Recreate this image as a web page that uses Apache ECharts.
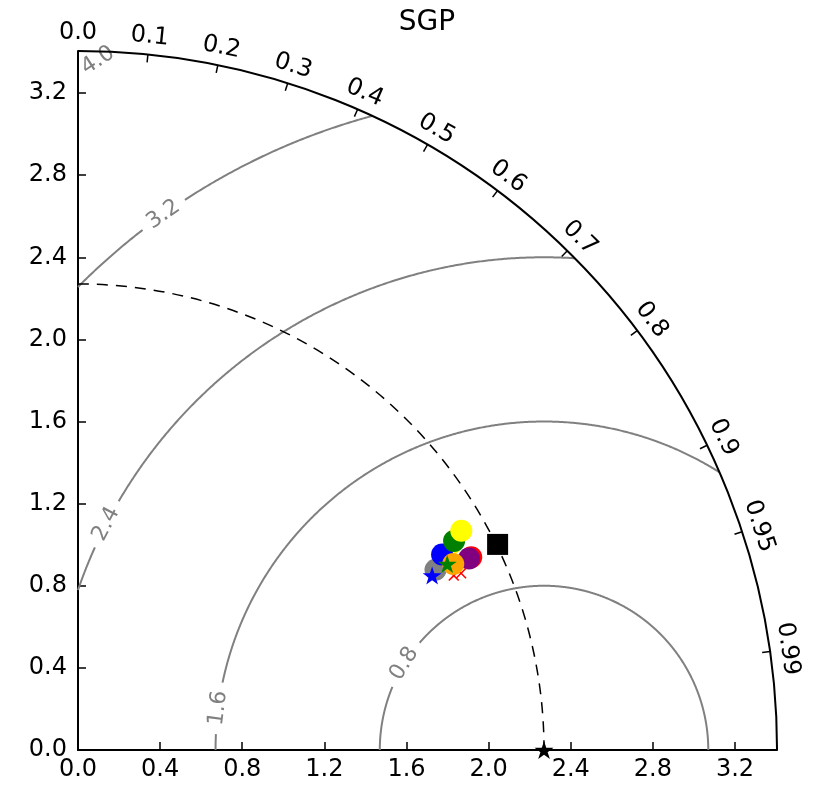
<!DOCTYPE html>
<html>
<head>
<meta charset="utf-8">
<title>SGP</title>
<script src="https://cdn.jsdelivr.net/npm/echarts@6.0.0/dist/echarts.min.js"></script>
<style>
html, body { margin: 0; padding: 0; background: #fff; }
#chart { width: 813px; height: 788px; }
</style>
</head>
<body>
<div id="chart"></div>
<script>
// Taylor diagram: radius = standard deviation, angle = arccos(correlation)
const titleText = 'SGP';
const refStd = 2.27;   // standard deviation of the reference (observations)
const stdTicks = [0.0, 0.4, 0.8, 1.2, 1.6, 2.0, 2.4, 2.8, 3.2];
const corrTicks = [0.0, 0.1, 0.2, 0.3, 0.4, 0.5, 0.6, 0.7, 0.8, 0.9, 0.95, 0.99];
const rmsLevels = [0.8, 1.6, 2.4, 3.2, 4.0];

// model points, listed in drawing order (later ones on top)
const pointStd  = [1.950, 2.050, 2.013, 2.133, 2.121, 2.096, 2.151, 2.018, 2.055, 2.040, 2.014, 1.923];
const pointCorr = [0.893, 0.884, 0.881, 0.898, 0.898, 0.874, 0.868, 0.907, 0.908, 0.896, 0.893, 0.897];
// ensemble / benchmark point
const squareStd  = [2.276];
const squareCorr = [0.898];

// marker styling, one entry per model point
const pointColor = ['#808080', '#ffff00', '#0000ff', '#ff0000', '#800080', '#008000',
                    '#ffff00', '#ff0000', '#ff0000', '#ffa500', '#008000', '#0000ff'];
const pointShape = ['circle', 'star', 'circle', 'circle', 'circle', 'circle',
                    'circle', 'cross', 'cross', 'circle', 'star', 'star'];

// where each RMS contour label sits along its circle (degrees around the reference point)
const contourLabelAngle = [148.3, 172.7, 152.7, 125.4, 122.9];

const FONT = '"DejaVu Sans", "Liberation Sans", sans-serif';
const GRAY = '#808080';
const SCALE = 205.3;            // pixels per unit of standard deviation
const smax = 1.5 * refStd;      // outer radius of the diagram
const CONTOUR_GAP = 26;         // half width (px) of the break left for a contour label

const STAR = 'path://M0,-100 L22.45,-30.9 L95.1,-30.9 L36.33,11.8 L58.78,80.9 L0,38.2 L-58.78,80.9 L-36.33,11.8 L-95.1,-30.9 L-22.45,-30.9 Z';
const CROSS = 'path://M-10,-8 L-8,-10 L0,-2 L8,-10 L10,-8 L2,0 L10,8 L8,10 L0,2 L-8,10 L-10,8 L-2,0 Z';
const symbolFor = { circle: 'circle', star: STAR, cross: CROSS };
const sizeFor = { circle: 22, star: 19, cross: 11 };

function toXY(std, corr) {
  return [std * corr, std * Math.sqrt(1 - corr * corr)];
}

// angular extent (deg, around the reference point) of an RMS circle inside the quarter disc
function contourRange(r) {
  let lo = 0, hi = 180;
  const c = (smax * smax - refStd * refStd - r * r) / (2 * refStd * r);
  if (c < 1) lo = Math.acos(Math.max(-1, c)) * 180 / Math.PI;
  if (r > refStd) hi = Math.acos(-refStd / r) * 180 / Math.PI;
  return [lo, hi];
}

function contourItem(params, api) {
  const i = params.dataIndex;
  const r = rmsLevels[i];
  const u = api.size([1, 0])[0];
  const [lo, hi] = contourRange(r);
  const mid = contourLabelAngle[i];
  const half = CONTOUR_GAP / (r * u) * 180 / Math.PI;
  const children = [];
  [[lo, mid - half], [mid + half, hi]].forEach(([a, b]) => {
    a = Math.max(a, lo); b = Math.min(b, hi);
    if (b - a <= 0.05) return;
    const n = Math.max(2, Math.ceil((b - a) / 0.2));
    const pts = [];
    for (let k = 0; k <= n; k++) {
      const p = (a + (b - a) * k / n) * Math.PI / 180;
      pts.push(api.coord([refStd + r * Math.cos(p), r * Math.sin(p)]));
    }
    children.push({ type: 'polyline', shape: { points: pts },
      style: { stroke: GRAY, lineWidth: 2, fill: null } });
  });
  const pm = mid * Math.PI / 180;
  const c = api.coord([refStd + r * Math.cos(pm), r * Math.sin(pm)]);
  children.push({ type: 'text', x: c[0], y: c[1], rotation: pm - Math.PI / 2,
    style: { text: r.toFixed(1), fill: GRAY, font: '22px ' + FONT, align: 'center', verticalAlign: 'middle' } });
  return { type: 'group', children };
}

function corrItem(params, api) {
  const c = corrTicks[params.dataIndex];
  const t = Math.acos(c);
  const o = api.coord([0, 0]);
  const R = api.size([smax, 0])[0];
  const dx = Math.cos(t), dy = -Math.sin(t);
  return { type: 'group', children: [
    { type: 'line', shape: { x1: o[0] + R * dx, y1: o[1] + R * dy, x2: o[0] + (R - 8) * dx, y2: o[1] + (R - 8) * dy },
      style: { stroke: '#000', lineWidth: 1.5 } },
    { type: 'text', x: o[0] + (R + 18) * dx, y: o[1] + (R + 18) * dy, rotation: t - Math.PI / 2,
      style: { text: c === 0 ? '0.0' : String(c), fill: '#000', font: '24px ' + FONT, align: 'center', verticalAlign: 'middle' } }
  ] };
}

function arcsItem(params, api) {
  const o = api.coord([0, 0]);
  const R = api.size([smax, 0])[0];
  const Rr = api.size([refStd, 0])[0];
  return { type: 'group', children: [
    { type: 'arc', shape: { cx: o[0], cy: o[1], r: Rr, startAngle: -Math.PI / 2, endAngle: 0, clockwise: true },
      style: { stroke: '#000', lineWidth: 1.5, lineDash: [11, 8], fill: null } },
    { type: 'arc', shape: { cx: o[0], cy: o[1], r: R, startAngle: -Math.PI / 2, endAngle: 0, clockwise: true },
      style: { stroke: '#000', lineWidth: 2, fill: null } }
  ] };
}

const modelData = pointStd.map((s, i) => ({
  value: toXY(s, pointCorr[i]),
  symbol: symbolFor[pointShape[i]],
  symbolSize: sizeFor[pointShape[i]],
  symbolKeepAspect: true,
  itemStyle: { color: pointColor[i], opacity: 1 }
}));

const chart = echarts.init(document.getElementById('chart'), null, { renderer: 'canvas' });
const side = smax * SCALE;

const axisCommon = {
  type: 'value', min: 0, max: smax, interval: 0.4,
  axisLine: { show: true, onZero: false, lineStyle: { color: '#000', width: 2 } },
  axisTick: { show: true, inside: true, length: 8, customValues: stdTicks, lineStyle: { color: '#000', width: 1.5 } },
  splitLine: { show: false }
};

chart.setOption({
  animation: false,
  backgroundColor: '#fff',
  graphic: [{
    type: 'text', x: 427, y: 23,
    style: { text: titleText, fill: '#000', font: '28px ' + FONT, align: 'center', verticalAlign: 'middle' }
  }],
  grid: { left: 78, top: 750 - side, width: side, height: side },
  xAxis: Object.assign({}, axisCommon, {
    axisLabel: { customValues: stdTicks, formatter: v => v.toFixed(1), color: '#000', fontSize: 24, fontFamily: FONT, margin: 8 }
  }),
  yAxis: Object.assign({}, axisCommon, {
    axisLabel: { customValues: stdTicks, formatter: v => v.toFixed(1), color: '#000', fontSize: 24, fontFamily: FONT, margin: 11 }
  }),
  series: [
    { type: 'custom', coordinateSystem: 'cartesian2d', silent: true, z: 1,
      data: rmsLevels.map(v => [0, 0]), renderItem: contourItem },
    { type: 'custom', coordinateSystem: 'cartesian2d', silent: true, z: 2,
      data: [[0, 0]], renderItem: arcsItem },
    { type: 'custom', coordinateSystem: 'cartesian2d', silent: true, z: 2,
      data: corrTicks.map(v => [0, 0]), renderItem: corrItem },
    { type: 'scatter', z: 3, clip: false, silent: true, itemStyle: { opacity: 1 }, data: modelData },
    { type: 'scatter', z: 4, clip: false, silent: true, symbol: 'rect', symbolSize: 21,
      itemStyle: { color: '#000', opacity: 1 },
      data: squareStd.map((s, i) => toXY(s, squareCorr[i])) },
    { type: 'scatter', z: 4, clip: false, silent: true, symbol: STAR, symbolSize: 19, symbolKeepAspect: true,
      itemStyle: { color: '#000', opacity: 1 },
      data: [[refStd, 0]] }
  ]
});
</script>
</body>
</html>
